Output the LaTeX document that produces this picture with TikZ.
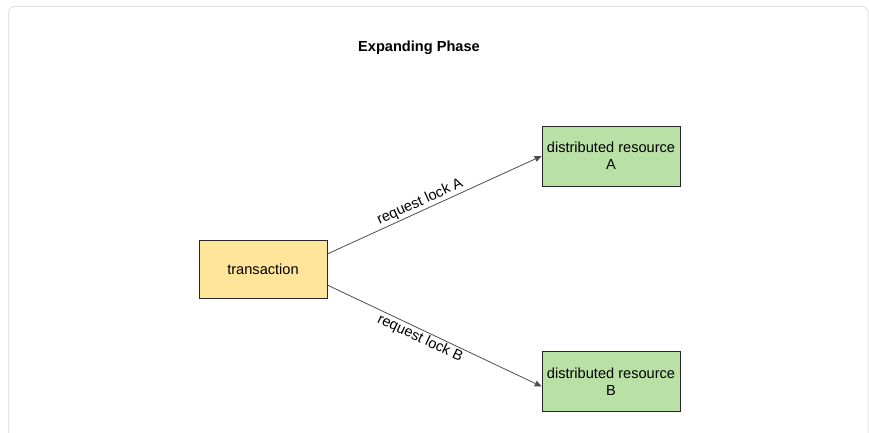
\documentclass[tikz,border=0pt]{standalone}
\usepackage{fontspec}
\setmainfont{Liberation Sans}
\usetikzlibrary{arrows.meta,positioning,calc}
\definecolor{txfill}{HTML}{FFE599}
\definecolor{resfill}{HTML}{B9E0A5}
\definecolor{edgegray}{HTML}{4D4D4D}
\definecolor{framegray}{HTML}{E3E3E3}

\begin{document}
\begin{tikzpicture}[x=1pt,y=1pt,>=Stealth,
semithick, font=\fontsize{14.6}{17}\selectfont]

\tikzstyle{every box}=[rectangle, draw=black!85, line width=0.6pt, align=center, inner sep=0pt]
\tikzstyle{txbox}=[every box, fill=txfill, minimum width=128, minimum height=58]
\tikzstyle{resbox}=[every box, fill=resfill, minimum width=138, minimum height=60]
\tikzstyle{lockedge}=[-{Triangle[length=7pt,width=6pt]}, draw=edgegray, line width=0.8pt]
\tikzstyle{locklabel}=[pos=0.45, sloped, inner sep=1.5pt]

\useasboundingbox (0,0) rectangle (869,432);
\draw[framegray, line width=1pt, rounded corners=6pt] (8.5,-20) -- (8.5,425.5) -- (868,425.5) -- (868,-20);

%title
\node[font=\bfseries\fontsize{14.6}{17}\selectfont]
(title) at (419,384)
{Expanding Phase};

\node[txbox]
(trans) at (263,163)
{transaction};

\node[resbox]
(resA) at (611,276)
{distributed resource\\A};

\node[resbox]
(resB) at (611,50.5)
{distributed resource\\B};

\draw[lockedge] ([yshift=15]trans.east) -- (resA.west)
  node[locklabel, above] (lblA) {request lock A};
\draw[lockedge] ([yshift=-16]trans.east) -- ([yshift=-5]resB.west)
  node[locklabel, below] (lblB) {request lock B};

\end{tikzpicture}
\end{document}
